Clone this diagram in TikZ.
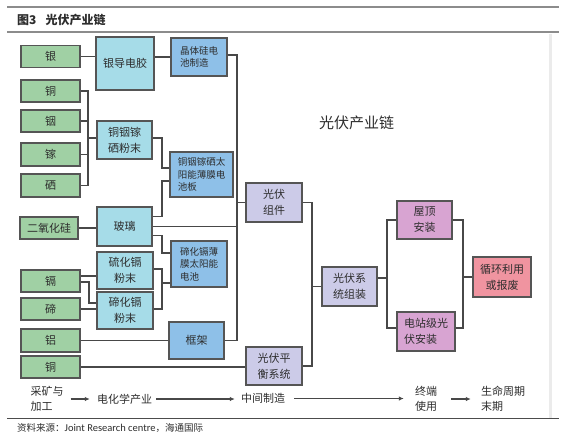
\documentclass[tikz,border=0pt]{standalone}
\usepackage{fontspec}
\setmainfont{Noto Sans CJK SC}
\newfontfamily\carlito{Carlito}
\usetikzlibrary{arrows.meta}
\definecolor{cgreen}{RGB}{160,208,164}
\definecolor{ccyan}{RGB}{166,220,232}
\definecolor{cblue}{RGB}{142,192,232}
\definecolor{clav}{RGB}{204,203,232}
\definecolor{cpink}{RGB}{216,164,210}
\definecolor{csalmon}{RGB}{240,148,160}
\definecolor{cline}{RGB}{72,72,72}
\definecolor{cborder}{RGB}{85,85,85}
\definecolor{ctext}{RGB}{45,45,45}
\tikzset{
  box/.style={draw=cborder, line width=1.2pt, inner sep=0pt, text=ctext, align=center,
    font=\fontsize{11}{16}\selectfont},
  smallbox/.style={box, align=left, font=\fontsize{9.5}{12.5}\selectfont},
  gbox/.style={box, fill=cgreen, minimum width=59pt, minimum height=22pt},
  cbox/.style={box, fill=ccyan},
  bbox/.style={smallbox, fill=cblue},
  lbox/.style={box, fill=clav},
  pbox/.style={box, fill=cpink},
  conn/.style={draw=cline, line width=1.1pt},
  flowtxt/.style={inner sep=0pt, text=ctext, align=left, font=\fontsize{11}{15}\selectfont},
  flow/.style={draw=cline, line width=1.4pt, -{Latex[length=5pt,width=4.5pt]}},
}
\begin{document}
\begin{tikzpicture}[x=1pt,y=-1pt]
\useasboundingbox (0,0) rectangle (580,445);
\fill[white] (0,0) rectangle (580,445);
% frame lines
\draw[line width=2pt, draw=black!45] (7,7) -- (559,7);
\draw[line width=1.2pt, draw=black!45] (7,32) -- (559,32);
\draw[line width=3pt, draw=black!8] (550,34) -- (550,418);
\draw[line width=1pt, draw=black!70] (7,418) -- (559,418);
\node[anchor=west, inner sep=0pt, text=ctext, font=\fontsize{12}{14}\selectfont\bfseries] (title) at (17,20) {图3\hspace{9pt}光伏产业链};
\node[anchor=west, inner sep=0pt, text=ctext, font=\fontsize{9.5}{12}\selectfont] (src) at (17,428)
  {资料来源：{\carlito\fontsize{10.5}{12}\selectfont Joint Research centre}，海通国际};
\node[inner sep=0pt, text=ctext, font=\fontsize{15}{18}\selectfont] (maintitle) at (356.5,123) {光伏产业链};

% column 1
\node[gbox] (yin) at (50.5,56.5) {银};
\node[gbox] (tong1) at (50.5,91) {铜};
\node[gbox] (yin2) at (50.5,121) {铟};
\node[gbox, minimum height=23pt] (jia) at (50.5,154.5) {镓};
\node[gbox, minimum height=23pt] (xi) at (50.5,185.5) {硒};
\node[gbox, minimum width=58pt] (sio2) at (49,228) {二氧化硅};
\node[gbox] (ge) at (50.5,281) {镉};
\node[gbox] (di) at (50.5,309) {碲};
\node[gbox, minimum height=23pt] (lv) at (50.5,340.5) {铝};
\node[gbox] (tong2) at (50.5,367) {铜};

% column 2
\node[cbox, minimum width=58pt, minimum height=53pt] (agpaste) at (125,63.5) {银导电胶};
\node[cbox, minimum width=55pt, minimum height=38pt] (cigspow) at (124.5,140) {铜铟镓\\硒粉末};
\node[cbox, minimum width=55pt, minimum height=39pt] (glass) at (124.5,226.5) {玻璃};
\node[cbox, minimum width=56pt, minimum height=37pt] (cdspow) at (125,270.5) {硫化镉\\粉末};
\node[cbox, minimum width=56pt, minimum height=37pt] (cdtepow) at (125,310.5) {碲化镉\\粉末};

% column 3
\node[bbox, minimum width=56pt, minimum height=38pt] (csi) at (199,57) {晶体硅电\\池制造};
\node[bbox, minimum width=63pt, minimum height=45pt] (cigs) at (201.5,174.5) {铜铟镓硒太\\阳能薄膜电\\池板};
\node[bbox, minimum width=56pt, minimum height=46pt] (cdte) at (199,264) {碲化镉薄\\膜太阳能\\电池};
\node[box, fill=cblue, minimum width=55pt, minimum height=37pt] (frame) at (196.5,340.5) {框架};

% column 4
\node[lbox, minimum width=56pt, minimum height=39pt] (module) at (274,202.5) {光伏\\组件};
\node[lbox, minimum width=56pt, minimum height=38pt] (bos) at (274,366) {光伏平\\衡系统};
\node[lbox, minimum width=55pt, minimum height=39pt] (sysasm) at (349.5,286.5) {光伏系\\统组装};

% column 5
\node[pbox, minimum width=55pt, minimum height=38pt] (roof) at (424.5,220) {屋顶\\安装};
\node[pbox, minimum width=58pt, minimum height=39pt, align=left] (station) at (426,331.5) {电站级光\\伏安装};
\node[box, fill=csalmon, minimum width=58pt, minimum height=40pt] (recycle) at (502,277) {循环利用\\或报废};

% connectors: column 1 -> 2
\draw[conn] (yin.east) -- (yin.east -| agpaste.west);
\coordinate (b1t) at (88,91);
\coordinate (b1b) at (88,185.5);
\draw[conn] (tong1.east) -- (b1t) -- (b1b) -- (xi.east);
\draw[conn] (yin2.east) -- (yin2.east -| b1t);
\draw[conn] (jia.east) -- (jia.east -| b1t);
\draw[conn] (cigspow.west |- 0,138) -- (b1t |- 0,138);
\draw[conn] (sio2.east) -- (sio2.east -| glass.west);
\draw[conn] ([yshift=5pt]ge.east) -- ([yshift=5pt]ge.east -| cdspow.west);
\coordinate (k5) at (89,303);
\draw[conn] ([yshift=-1pt]ge.east) -| (k5) -- (k5 -| cdtepow.west);
\draw[conn] (di.east) -- (di.east -| cdtepow.west);
\draw[conn] (lv.east) -- (frame.west);
\draw[conn] (tong2.east) -- (tong2.east -| bos.west);

% column 2 -> 3
\draw[conn] (agpaste.east |- csi.west) -- (csi.west);
\coordinate (k1) at (162,168);
\draw[conn] ([yshift=2pt]cigspow.east) -| (k1) -- (k1 -| cigs.west);
\coordinate (k2) at (162,181);
\draw[conn] ([yshift=10pt]glass.east) -| (k2) -- (k2 -| cigs.west);
\coordinate (k3) at (162,253);
\draw[conn] ([yshift=-9pt]glass.east) -| (k3) -- (k3 -| cdte.west);
\coordinate (k4t) at (162,269);
\coordinate (k4b) at (162,309);
\draw[conn] ([yshift=1.5pt]cdspow.east) -- (k4t) -- (k4b) -- (k4b -| cdtepow.east);
\draw[conn] (162,283) -- (cdte.west |- 0,283);

% main bus
\coordinate (busT) at (237,55);
\coordinate (busB) at (237,340.5);
\draw[conn] ([yshift=2pt]csi.east) -- (busT) -- (busB) -- (frame.east);
\draw[conn] (glass.east) -- (glass.east -| busT);
\draw[conn] (module.west) -- (module.west -| busT);

% column 4 -> 5
\coordinate (c1t) at (312,202.5);
\coordinate (c1b) at (312,366);
\draw[conn] (module.east) -- (c1t) -- (c1b) -- (bos.east);
\draw[conn] (sysasm.west) -- (sysasm.west -| c1t);
\coordinate (c2t) at (387,220);
\coordinate (c2b) at (387,328);
\draw[conn] (roof.west) -- (c2t) -- (c2b) -- (c2b -| station.west);
\draw[conn] ([yshift=8.5pt]sysasm.east) -- ([yshift=8.5pt]sysasm.east -| c2t);
\coordinate (c3t) at (463,220);
\coordinate (c3b) at (463,328);
\draw[conn] (roof.east) -- (c3t) -- (c3b) -- (c3b -| station.east);
\draw[conn] (recycle.west) -- (recycle.west -| c3t);

% bottom flow
\node[flowtxt] (f1) at (47,399) {采矿与\\加工};
\node[flowtxt] (f2) at (124.5,399) {电化学产业};
\node[flowtxt] (f3) at (263,398.5) {中间制造};
\node[flowtxt] (f4) at (426,399) {终端\\使用};
\node[flowtxt] (f5) at (503,399) {生命周期\\末期};
\draw[flow, shorten <=7pt, shorten >=7pt] (f1.east) -- (f2.west |- f1.east);
\draw[flow, shorten <=4pt, shorten >=6pt] (f2.east) -- (f3.west |- f2.east);
\draw[flow, shorten <=9pt, shorten >=11pt] (f3.east) -- (f4.west |- f3.east);
\draw[flow, shorten <=14pt, shorten >=10pt] (f4.east) -- (f5.west |- f4.east);
\end{tikzpicture}
\end{document}
